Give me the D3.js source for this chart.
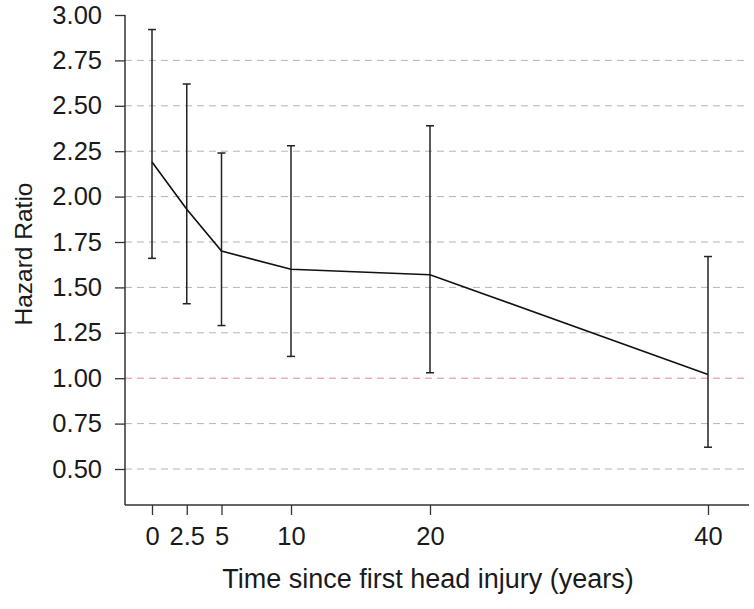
<!DOCTYPE html>
<html>
<head>
<meta charset="utf-8">
<script src="https://cdn.jsdelivr.net/npm/d3@7"></script>
<style>
  body { margin: 0; background: #fff; }
  text { font-family: "Liberation Sans", Arial, sans-serif; fill: #1a1a1a; }
</style>
</head>
<body>
<div id="wrapper"></div>
<script>
// data
const years = [0, 2.5, 5, 10, 20, 40];
const hazard = [2.19, 1.93, 1.70, 1.60, 1.57, 1.02];
const lower = [1.66, 1.41, 1.29, 1.12, 1.03, 0.62];
const upper = [2.92, 2.62, 2.24, 2.28, 2.39, 1.67];
const xTickLabels = ["0", "2.5", "5", "10", "20", "40"];
const yTicks = [0.5, 0.75, 1.0, 1.25, 1.5, 1.75, 2.0, 2.25, 2.5, 2.75, 3.0];
const gridValues = [0.5, 0.75, 1.0, 1.25, 1.5, 1.75, 2.0, 2.25, 2.5, 2.75];

function drawChart() {
  const dimensions = {
    width: 754,
    height: 609,
    margins: { top: 15, right: 5, bottom: 104, left: 125 }
  };
  dimensions.boundedWidth = dimensions.width - dimensions.margins.left - dimensions.margins.right;
  dimensions.boundedHeight = dimensions.height - dimensions.margins.top - dimensions.margins.bottom;

  const wrapper = d3.select("#wrapper")
    .append("svg")
      .attr("width", dimensions.width)
      .attr("height", dimensions.height);

  const bounds = wrapper.append("g")
    .attr("transform", `translate(${dimensions.margins.left},${dimensions.margins.top})`);

  // scales
  const xScale = d3.scaleLinear()
    .domain([0, 40])
    .range([27, 583]);

  const yScale = d3.scaleLinear()
    .domain([0.5, 3])
    .range([454, 0]);

  // grid lines
  bounds.append("g")
    .selectAll("line")
    .data(gridValues)
    .join("line")
      .attr("x1", 0)
      .attr("x2", dimensions.boundedWidth - 2)
      .attr("y1", d => yScale(d))
      .attr("y2", d => yScale(d))
      .attr("stroke", d => d === 1 ? "#e58a8a" : "#b4b4b4")
      .attr("stroke-width", 1)
      .attr("stroke-dasharray", "7,5");

  // axes
  const yAxisGenerator = d3.axisLeft(yScale)
    .tickValues(yTicks)
    .tickFormat(d3.format(".2f"))
    .tickSize(10)
    .tickPadding(13);

  const yAxis = bounds.append("g").call(yAxisGenerator);
  yAxis.select(".domain").remove();
  yAxis.selectAll(".tick line").attr("stroke", "#333").attr("stroke-width", 1.3);
  yAxis.selectAll(".tick text")
    .attr("font-size", 25.5)
    .style("font-family", "Liberation Sans, Arial, sans-serif")
    .attr("fill", "#1a1a1a");

  const xAxisGenerator = d3.axisBottom(xScale)
    .tickValues(years)
    .tickFormat((d, i) => xTickLabels[i])
    .tickSize(10)
    .tickPadding(12);

  const xAxis = bounds.append("g")
    .attr("transform", `translate(0,${dimensions.boundedHeight})`)
    .call(xAxisGenerator);
  xAxis.select(".domain").remove();
  xAxis.selectAll(".tick line").attr("stroke", "#333").attr("stroke-width", 1.3);
  xAxis.selectAll(".tick text")
    .attr("font-size", 25.5)
    .style("font-family", "Liberation Sans, Arial, sans-serif")
    .attr("fill", "#1a1a1a");

  // axis lines
  bounds.append("line")
    .attr("x1", 0).attr("x2", 0)
    .attr("y1", 0).attr("y2", dimensions.boundedHeight)
    .attr("stroke", "#333").attr("stroke-width", 1.5);
  bounds.append("line")
    .attr("x1", 0).attr("x2", dimensions.boundedWidth)
    .attr("y1", dimensions.boundedHeight).attr("y2", dimensions.boundedHeight)
    .attr("stroke", "#333").attr("stroke-width", 1.5);

  // error bars
  const capHalf = 4;
  const bars = bounds.append("g")
    .selectAll("g")
    .data(years.map((d, i) => ({ x: d, lo: lower[i], hi: upper[i] })))
    .join("g")
      .attr("stroke", "#222")
      .attr("stroke-width", 1.5);

  bars.append("line")
    .attr("x1", d => xScale(d.x)).attr("x2", d => xScale(d.x))
    .attr("y1", d => yScale(d.lo)).attr("y2", d => yScale(d.hi));
  bars.append("line")
    .attr("x1", d => xScale(d.x) - capHalf).attr("x2", d => xScale(d.x) + capHalf)
    .attr("y1", d => yScale(d.hi)).attr("y2", d => yScale(d.hi));
  bars.append("line")
    .attr("x1", d => xScale(d.x) - capHalf).attr("x2", d => xScale(d.x) + capHalf)
    .attr("y1", d => yScale(d.lo)).attr("y2", d => yScale(d.lo));

  // hazard ratio line
  const lineGenerator = d3.line()
    .x((d, i) => xScale(years[i]))
    .y(d => yScale(d));

  bounds.append("path")
    .attr("d", lineGenerator(hazard))
    .attr("fill", "none")
    .attr("stroke", "#111")
    .attr("stroke-width", 1.6);

  // labels
  wrapper.append("text")
    .attr("x", 428)
    .attr("y", 588)
    .attr("text-anchor", "middle")
    .attr("font-size", 27)
    .text("Time since first head injury (years)");

  wrapper.append("text")
    .attr("transform", "translate(32,254) rotate(-90)")
    .attr("text-anchor", "middle")
    .attr("font-size", 24.5)
    .text("Hazard Ratio");
}

drawChart();
</script>
</body>
</html>
